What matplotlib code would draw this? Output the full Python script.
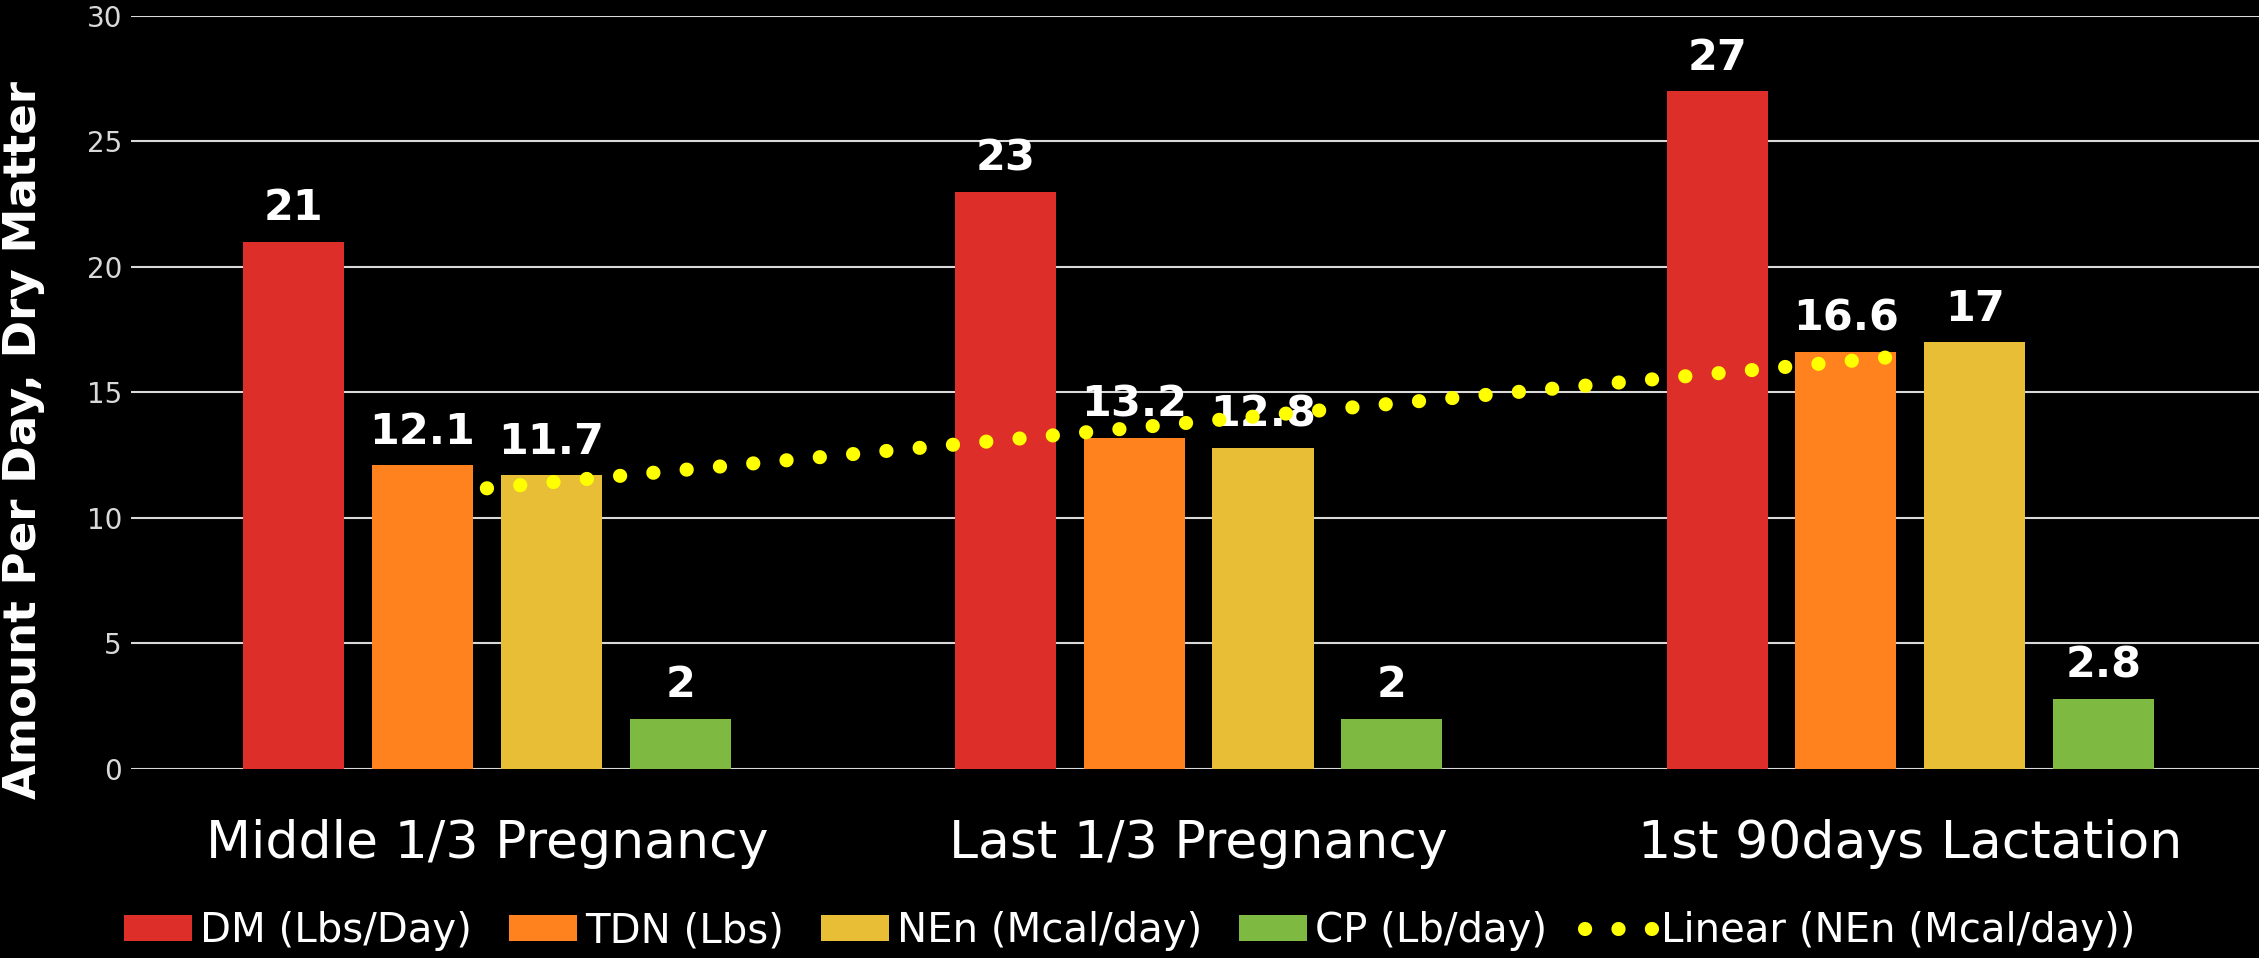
import numpy as np
import matplotlib
matplotlib.use("Agg")
import matplotlib.pyplot as plt

# data
categories = ["Middle 1/3 Pregnancy", "Last 1/3 Pregnancy", "1st 90days Lactation"]
dm = [21, 23, 27]
tdn = [12.1, 13.2, 16.6]
nen = [11.7, 12.8, 17]
cp = [2, 2, 2.8]

seriesNames = ["DM (Lbs/Day)", "TDN (Lbs)", "NEn (Mcal/day)", "CP (Lb/day)"]
seriesColors = ["#DE2E29", "#FF821E", "#E8BE37", "#7EBA42"]
trendName = "Linear (NEn (Mcal/day))"

fig = plt.figure(figsize=(22.59, 9.58), dpi=100, facecolor="black")
ax = fig.add_axes([0.058, 0.1973, 0.942, 0.786])
ax.set_facecolor("black")

x = np.arange(len(categories))
barWidth = 0.142
step = 0.181

handles = []
allSeries = [dm, tdn, nen, cp]
for i, vals in enumerate(allSeries):
    pos = x + (i - 1.5) * step
    bars = ax.bar(pos, vals, width=barWidth, color=seriesColors[i], label=seriesNames[i], zorder=2)
    handles.append(bars)
    for px, v in zip(pos, vals):
        ax.annotate(f"{v:g}", (px, v), xytext=(0, 9), textcoords="offset points",
                    ha="center", va="bottom", color="white", fontsize=31,
                    fontweight="bold", zorder=3)

# linear trendline of NEn, like the spreadsheet one
coef = np.polyfit(x, nen, 1)
trend, = ax.plot(x, np.polyval(coef, x), color="#FFFF00", linewidth=10.2,
                 linestyle=(0, (0.01, 2.35)), dash_capstyle="round", label=trendName, zorder=4)
handles.append(trend)

ax.set_xlim(-0.5, 2.49)
ax.set_ylim(0, 30)
ax.set_yticks(range(0, 31, 5))
ax.set_xticks(x)
ax.set_xticklabels(categories)
ax.tick_params(axis="x", length=0, pad=36, labelsize=37.5, labelcolor="white")
ax.tick_params(axis="y", length=0, pad=6.5, labelsize=20, labelcolor="#D9D9D9")
ax.yaxis.grid(True, color="#D9D9D9", linewidth=1.5, zorder=0)
ax.set_axisbelow(True)
for s in ax.spines.values():
    s.set_visible(False)

fig.text(24 / 2259, 1 - 440 / 958, "Amount Per Day, Dry Matter", rotation=90,
         ha="center", va="center", color="white", fontsize=32.5, fontweight="bold")

leg = fig.legend(handles, seriesNames + [trendName], loc="center", bbox_to_anchor=(0.5, 0.028), ncol=5,
                 frameon=False, fontsize=29, handlelength=1.69, handleheight=0.6,
                 handletextpad=0.2, columnspacing=0.92, borderpad=0)
for t in leg.get_texts():
    t.set_color("white")

fig.savefig("out.png", dpi=100, facecolor="black")
